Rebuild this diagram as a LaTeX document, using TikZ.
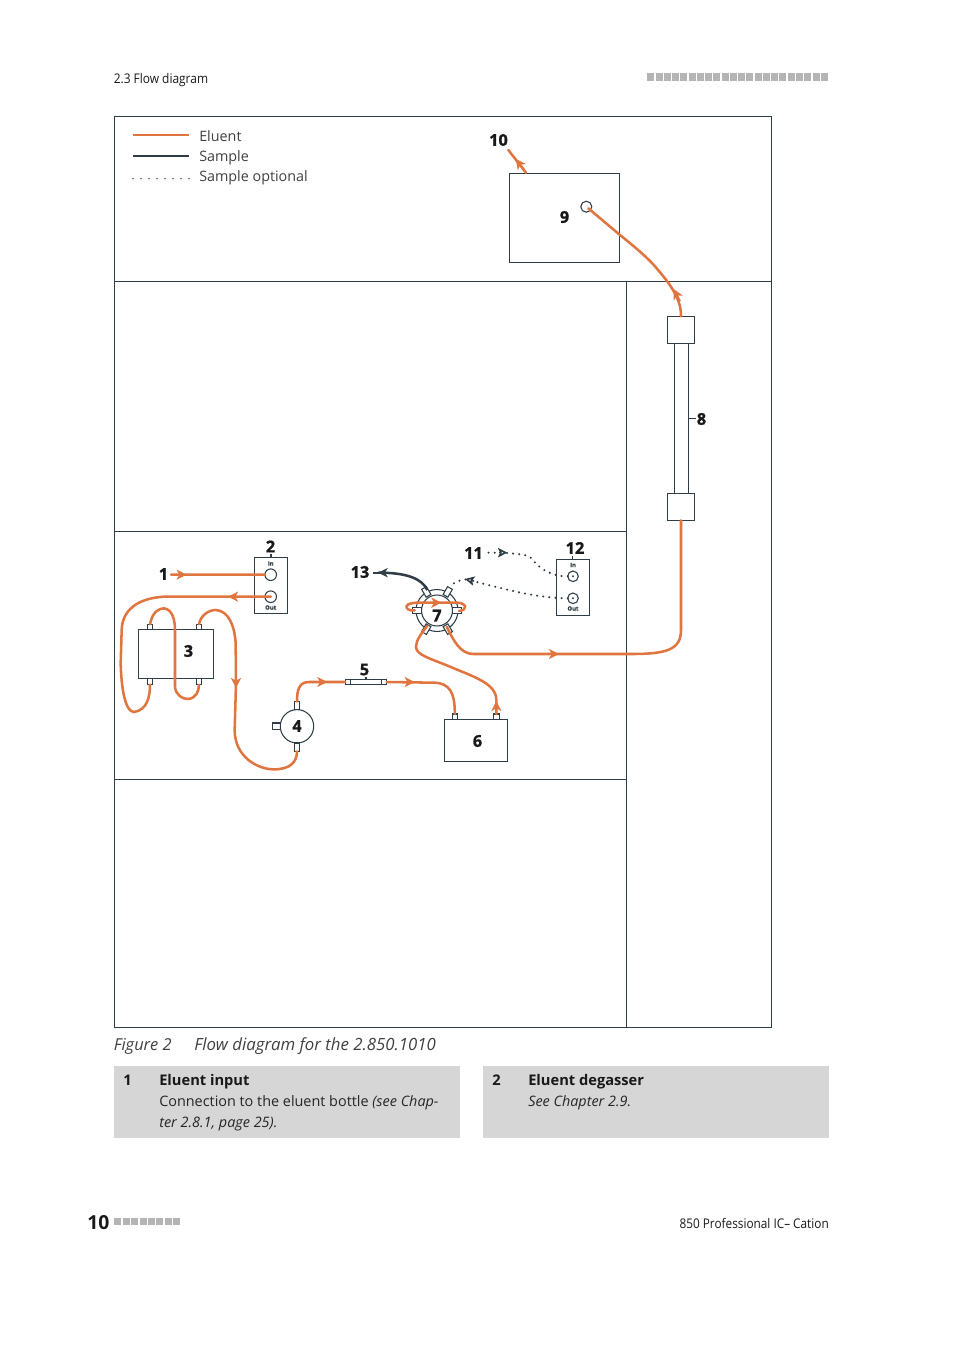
\documentclass[tikz,border=0pt]{standalone}
\usepackage{fontspec}
\usepackage{graphicx}
\setmainfont{Open Sans}
\newfontfamily\numfont{Open Sans}[BoldFeatures={FakeBold=1.2}]
\usetikzlibrary{arrows.meta}
\definecolor{dk}{HTML}{2F3E46}
\definecolor{eluent}{HTML}{E07540}
\definecolor{txt}{HTML}{404040}
\definecolor{pan}{HTML}{D6D6D6}
\definecolor{sq}{HTML}{B4B4B4}
\newcommand{\fs}[1]{\fontsize{#1}{#1}\selectfont}
\newcommand{\pxbox}[5]{%
  \pgfmathsetmacro\cw{(#4-#2)*0.75}\pgfmathsetmacro\ch{(#5-#3)*0.75}%
  \node[dev,minimum width=\cw pt,minimum height=\ch pt] (#1) at ({(#2+#4)/2},{(#3+#5)/2}) {};}
\newcommand{\pxcirc}[4]{%
  \pgfmathsetmacro\cw{#4*1.5}%
  \node[dev,circle,minimum size=\cw pt] (#1) at (#2,#3) {};}
\newcommand{\radport}[5]{% name, angle, radius, length, width
  \pgfmathsetmacro\cw{#4*0.75}\pgfmathsetmacro\ch{#5*0.75}%
  \node[dev,fill=white,rotate=#2,minimum width=\cw pt,minimum height=\ch pt] (#1) at ({437+#3*cos(#2)},{610.5-#3*sin(#2)}) {};}
\tikzset{
  dev/.style={draw=dk,line width=0.8pt,inner sep=0pt,outer sep=0pt},
  rule/.style={draw=dk,line width=0.75pt},
  flow/.style={draw=eluent,line width=1.9pt,line cap=round},
  flowtip/.style={draw=eluent,fill=eluent,line width=1.5pt,-{Stealth[length=7.5pt,width=7.5pt,inset=2pt]}},
  samp/.style={draw=dk,line width=1.9pt},
  samptip/.style={draw=dk,fill=dk,line width=1.4pt,-{Stealth[length=7pt,width=7pt,inset=2pt]}},
  opt/.style={draw=dk,line width=1.7pt,line cap=round,dash pattern=on 0pt off 4.6pt},
  opttip/.style={draw=dk,line width=1.2pt,-{Stealth[length=7pt,width=7pt,inset=1.5pt,fill=white]}},
  num/.style={font=\numfont\bfseries\fs{12.2},text=black!90,inner sep=0pt},
  tiny/.style={font=\numfont\bfseries\fs{4.4},text=dk,inner sep=0pt},
  legendt/.style={font=\fs{10.75},text=txt,anchor=base west,inner sep=0pt},
  body/.style={font=\fs{10.8},text=black!85,anchor=base west,inner sep=0pt},
  bodyb/.style={font=\bfseries\fs{11},text=black!90,anchor=base west,inner sep=0pt},
  capt/.style={font=\itshape\fs{12.6},text=txt,anchor=base west,inner sep=0pt},
  head/.style={font=\fs{10},text=black!90,inner sep=0pt},
  panel/.style={fill=pan,draw=none,inner sep=0pt,outer sep=0pt},
  zone/.style={x=0.25pt,y=-0.25pt},
}
\begin{document}
\begin{tikzpicture}[x=0.75pt,y=-0.75pt]
\useasboundingbox (0,0) rectangle (954,1350);
% header / footer
\node[head,anchor=base west] (hl) at (113.5,83) {\scalebox{0.895}[1]{2.3 Flow diagram}};
\foreach \i in {0,...,21} \fill[sq] ({647.3+\i*8.26},73.3) rectangle +(7,7.4);
\node[font=\bfseries\fs{14.5},text=black!90,anchor=base west,inner sep=0pt] (pg) at (87,1229.5) {10};
\foreach \i in {0,...,7} \fill[sq] ({114.3+\i*8.4},1218.3) rectangle +(7,6.8);
\node[head,anchor=base east] (fr) at (829,1228) {\scalebox{0.885}[1]{850 Professional IC– Cation}};
% frame
\draw[rule] (114.5,116.5) rectangle (771.5,1027.5);
\draw[rule] (114.5,281.5) -- (771.5,281.5);
\draw[rule] (626.5,281.5) -- (626.5,1027.5);
\draw[rule] (114.5,531.5) -- (626.5,531.5);
\draw[rule] (114.5,779.5) -- (626.5,779.5);
% legend
\coordinate (la) at (133,134.7); \coordinate (lb) at (189,134.7);
\coordinate (lc) at (133,155.7); \coordinate (ld) at (189,155.7);
\coordinate (le) at (133,178.7); \coordinate (lf) at (189.5,178.7);
\draw[draw=eluent,line width=1.5pt] (la) -- (lb);
\draw[draw=dk,line width=1.4pt] (lc) -- (ld);
\draw[draw=dk,line width=1.15pt,line cap=round,dash pattern=on 0pt off 6pt] (le) -- (lf);
\node[legendt] (t1) at (199,141) {Eluent};
\node[legendt] (t2) at (199,161) {Sample};
\node[legendt] (t3) at (199,181) {Sample optional};
% devices
\pxbox{b9}{509.3}{173.3}{619.3}{262.3}
\pxcirc{c9}{586.3}{206.7}{5.5}
\pxbox{col}{674.7}{343.3}{688.7}{493.5}
\pxbox{b8t}{667.3}{316.3}{694.7}{343.3}
\pxbox{b8b}{667.3}{493.5}{694.7}{520.5}
\pxbox{b2}{254.3}{557.3}{287.7}{613.3}
\pxcirc{c2a}{270.7}{574.7}{5.8}
\pxcirc{c2b}{270.7}{596.7}{5.8}
\pxbox{b3}{138.3}{629.3}{213.3}{678.3}
\pxbox{p3a}{147.3}{624.3}{152.7}{629.3}
\pxbox{p3b}{196.3}{624.3}{201.7}{629.3}
\pxbox{p3c}{147.3}{678.3}{152.7}{684.7}
\pxbox{p3d}{196.3}{678.3}{201.7}{684.7}
\pxcirc{c4}{297}{726.3}{16.7}
\pxbox{p4t}{294.3}{701.7}{299.7}{709.6}
\pxbox{p4b}{294.3}{743}{299.7}{751.3}
\pxbox{p4l}{272.3}{723}{280.3}{729.7}
\pxbox{b5}{345.3}{679.3}{386.7}{684.7}
\pxbox{b6}{444.3}{719.3}{507.7}{761.3}
\pxbox{p6a}{452.3}{714}{457.3}{719.3}
\pxbox{p6b}{493.5}{714}{499.3}{719.3}
\pxbox{b12}{556.3}{559.3}{589.3}{615.3}
\pxcirc{c12a}{573}{576.3}{5.3}
\pxcirc{c12b}{573}{598.3}{5.3}
\fill[dk] (c12a) circle (.8pt) (c12b) circle (.8pt);
\draw[dk,line width=.6pt] (350.3,679.3) -- (350.3,684.7) (381.7,679.3) -- (381.7,684.7);
% valve
\pxcirc{v7o}{437}{610.5}{21}
\pxcirc{v7i}{437}{610.5}{15.5}
\radport{vp0}{0}{20}{9}{6}
\radport{vp1}{60}{21.5}{9}{5.5}
\radport{vp2}{120}{21.5}{9}{5.5}
\radport{vp3}{180}{20}{9}{6}
\radport{vp4}{240}{21.5}{9}{5.5}
\radport{vp5}{300}{21.5}{9}{5.5}
% ticks
\draw[dk,line width=.8pt] (b2.north) -- ++(0,-3.5);
\draw[dk,line width=.8pt] (b12.north) -- ++(0,-3);
\draw[dk,line width=.8pt] (b5.north) -- ++(0,-2.5);
\draw[dk,line width=.8pt] (col.east) -- ++(7,0);
% tiny texts
\node[tiny] (in2) at (270.7,563.5) {In};
\node[tiny] (ou2) at (270.7,607.5) {Out};
\node[tiny] (in12) at (573,565) {In};
\node[tiny] (ou12) at (573,608.5) {Out};
% flows, left group
\begin{scope}[zone,shift={(342,1590)}]
\coordinate (n1) at (171,134);
\draw[flow] (n1) -- (c2a.west);
\draw[flowtip] (190,134) -- (218,134);
\draw[flow] (c2b.center) -- (150,200) .. controls (70,205) and (25,240) .. (23,300)
  -- (20,400) .. controls (22,480) and (35,546) .. (60,546)
  .. controls (100,540) and (108,500) .. (p3c.south);
\draw[flowtip] (375,200) -- (342,200);
\draw[flow] (p3a.north) .. controls (115,245) and (135,235) .. (150,235)
  .. controls (175,238) and (183,270) .. (183,300) -- (183,470)
  .. controls (185,495) and (205,507) .. (222,507)
  .. controls (245,505) and (255,485) .. (p3d.south);
\draw[flow] (p3b.north) .. controls (260,255) and (285,240) .. (305,240)
  .. controls (345,242) and (362,290) .. (365,340) -- (366,460) -- (362,600)
  .. controls (362,680) and (430,718) .. (480,718)
  .. controls (530,718) and (549,695) .. (p4b.south);
\draw[flowtip] (366,440) -- (366,474);
\draw[flow] (p4t.north) .. controls (549,480) and (555,456) .. (585,456) -- (b5.west);
\draw[flowtip] (605,456) -- (640,456);
\end{scope}
% flows, right group
\begin{scope}[zone,shift={(1020,1590)}]
\draw[flow] (b5.east) -- (280,458) .. controls (330,458) and (345,490) .. (p6a.north);
\draw[flowtip] (190,456) -- (224,456);
\draw[flow] (p6b.north) -- (469,510) .. controls (469,460) and (400,440) .. (330,410)
  .. controls (270,385) and (228,375) .. (228,350)
  .. controls (228,330) and (245,310) .. (262,287);
\draw[flowtip] (469,548) -- (469,513);
\draw[flow] (320,290) .. controls (340,330) and (360,372) .. (400,372) -- (873,372)
  .. controls (978,372) and (1023,360) .. (1023,300) -- (b8b.south);
\draw[flowtip] (620,372) -- (657,372);
\draw[flow] (224,241) .. controls (205,243) and (198,235) .. (200,228)
  .. controls (203,218) and (230,218) .. (240,218) -- (350,218)
  .. controls (380,218) and (385,240) .. (357,243);
\draw[flowtip] (270,218) -- (304,218);
\draw[samp] (262,180) .. controls (245,145) and (200,128) .. (115,128);
\draw[samptip] (135,128) -- (115,128);
\draw[dk,line width=1.5pt] (100,128) -- (120,128);
\draw[opt] (c12a.west) .. controls (640,140) and (600,120) .. (575,85)
  .. controls (560,70) and (500,68) .. (435,68);
\draw[opttip] (476,68) -- (502,68);
\draw[opt] (c12b.west) .. controls (600,205) and (500,180) .. (380,148) .. controls (360,150) and (345,155) .. (335,165);
\draw[opttip] (402,153) -- (375,147);
\end{scope}
% flows, top group
\begin{scope}[zone,shift={(1440,360)}]
\coordinate (n10) at (85,90);
\draw[flow] (138,158) -- (n10);
\draw[flowtip] (134,152) -- (107,117);
\draw[flow] (325,265) -- (420,345) .. controls (470,385) and (510,420) .. (530,445)
  .. controls (555,475) and (605,530) .. (b8t.north);
\draw[flowtip] (600,544) -- (581,507);
\end{scope}
% numbers
\node[num] (N1) at (163.5,574) {1};
\node[num] (N2) at (270.5,546.5) {2};
\node[num] (N3) at (188.5,651) {3};
\node[num] (N4) at (297,726) {4};
\node[num] (N5) at (364.5,669.5) {5};
\node[num] (N6) at (477.5,741) {6};
\node[num] (N7) at (437,615.5) {7};
\node[num] (N8) at (701.5,419) {8};
\node[num] (N9) at (564.5,217) {9};
\node[num] (N10) at (498.5,140) {10};
\node[num] (N11) at (473.5,553) {11};
\node[num] (N12) at (575,548) {12};
\node[num] (N13) at (360,572) {13};
% caption
\node[capt,font=\itshape\fs{12.3}] (cp1) at (113.5,1050) {Figure 2};
\node[capt] (cp2) at (194,1050) {Flow diagram for the 2.850.1010};
% panels
\fill[pan] (114,1066) rectangle (460,1138);
\fill[pan] (483,1066) rectangle (829,1138);
\node[bodyb] (a1) at (123,1085) {1};
\node[bodyb] (a2) at (159,1085) {Eluent input};
\node[body] (a3) at (159,1106) {Connection to the eluent bottle \textit{(see Chap-}};
\node[body] (a4) at (159,1127) {\textit{ter 2.8.1, page 25).}};
\node[bodyb] (b1) at (492,1085) {2};
\node[bodyb] (b2t) at (528,1085) {Eluent degasser};
\node[body] (b3t) at (528,1106) {\textit{See Chapter 2.9.}};
\end{tikzpicture}
\end{document}
